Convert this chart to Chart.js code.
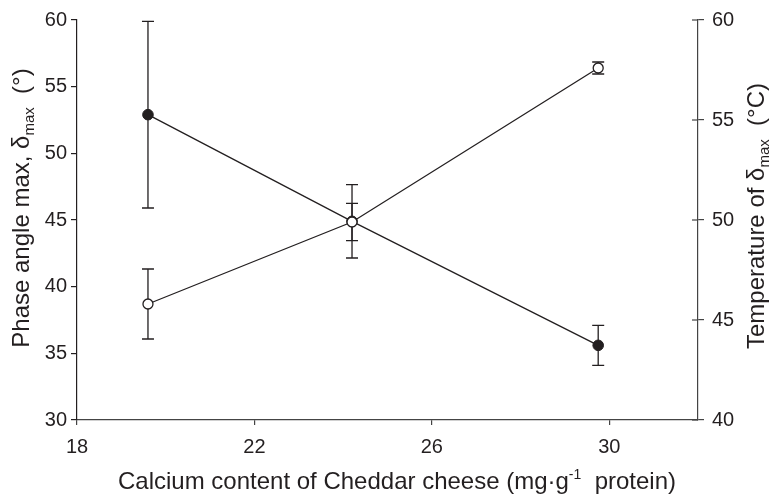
<!DOCTYPE html>
<html>
<head>
<meta charset="utf-8">
<script src="https://cdn.jsdelivr.net/npm/chart.js@4.4.1/dist/chart.umd.min.js"></script>
<style>
  html, body { margin: 0; padding: 0; background: #fff; }
  #wrap { width: 772px; height: 497px; position: relative; }
</style>
</head>
<body>
<div id="wrap"><canvas id="chart"></canvas></div>
<script>
// ---------------- Data ----------------
const calcium = [19.6, 24.2, 29.75];
const phaseAngle = [52.9, 44.9, 35.6];
const phaseErr = [7.0, 2.75, 1.5];
const temperature = [45.8, 49.9, 57.6];
const temperatureErr = [1.75, 0.93, 0.3];
const xTicks = [18, 22, 26, 30];
const leftTicks = [30, 35, 40, 45, 50, 55, 60];
const rightTicks = [40, 45, 50, 55, 60];

const INK = "#231f20";
const FONT = "'Liberation Sans', Arial, sans-serif";

// ---------------- Helpers ----------------
// parts: [{ text, size, dy }]  dy shifts baseline (positive = down)
function drawRich(ctx, parts, cx, cy, rotate) {
  ctx.save();
  ctx.translate(cx, cy);
  if (rotate) ctx.rotate(rotate);
  let total = 0;
  parts.forEach(p => {
    ctx.font = `${p.size}px ${FONT}`;
    p.w = ctx.measureText(p.text).width;
    total += p.w;
  });
  let x = -total / 2;
  ctx.fillStyle = INK;
  ctx.textBaseline = "alphabetic";
  ctx.textAlign = "left";
  parts.forEach(p => {
    ctx.font = `${p.size}px ${FONT}`;
    ctx.fillText(p.text, x, 8 + (p.dy || 0));
    x += p.w;
  });
  ctx.restore();
}

function fixTicks(list) {
  return scale => { scale.ticks = list.map(v => ({ value: v })); };
}

// ---------------- Plugins ----------------
const errorBars = {
  id: "errorBars",
  beforeDatasetsDraw(chart) {
    const { ctx, scales } = chart;
    const sets = [
      { y: phaseAngle, e: phaseErr, scale: scales.y },
      { y: temperature, e: temperatureErr, scale: scales.y2 }
    ];
    ctx.save();
    ctx.strokeStyle = INK;
    ctx.lineWidth = 1.3;
    sets.forEach(s => {
      calcium.forEach((xv, i) => {
        const px = scales.x.getPixelForValue(xv);
        const top = s.scale.getPixelForValue(s.y[i] + s.e[i]);
        const bot = s.scale.getPixelForValue(s.y[i] - s.e[i]);
        ctx.beginPath();
        ctx.moveTo(px, top); ctx.lineTo(px, bot);
        ctx.moveTo(px - 6, top); ctx.lineTo(px + 6, top);
        ctx.moveTo(px - 6, bot); ctx.lineTo(px + 6, bot);
        ctx.stroke();
      });
    });
    ctx.restore();
  }
};

const axisExtras = {
  id: "axisExtras",
  afterDraw(chart) {
    const { ctx, scales, chartArea } = chart;
    // inward half of right-axis ticks
    ctx.save();
    ctx.strokeStyle = "#444";
    ctx.lineWidth = 1.2;
    rightTicks.forEach(v => {
      const py = scales.y2.getPixelForValue(v);
      ctx.beginPath();
      ctx.moveTo(chartArea.right - 6, py);
      ctx.lineTo(chartArea.right, py);
      ctx.stroke();
    });
    ctx.restore();

    drawRich(ctx, [
      { text: "Phase angle max, δ", size: 24 },
      { text: "max", size: 15, dy: 5 },
      { text: "  (°)", size: 24 }
    ], 21, 208, -Math.PI / 2);

    drawRich(ctx, [
      { text: "Temperature of δ", size: 24 },
      { text: "max", size: 15, dy: 5 },
      { text: "  (°C)", size: 24 }
    ], 756, 216, -Math.PI / 2);

    drawRich(ctx, [
      { text: "Calcium content of Cheddar cheese (mg·g", size: 24 },
      { text: "-1", size: 14, dy: -10 },
      { text: "  protein)", size: 24 }
    ], 397, 481, 0);
  }
};

// ---------------- Chart ----------------
const tickFont = { family: FONT, size: 20 };

new Chart(document.getElementById("chart"), {
  type: "scatter",
  data: {
    datasets: [
      {
        label: "Temperature of δmax",
        data: calcium.map((x, i) => ({ x, y: temperature[i] })),
        yAxisID: "y2",
        showLine: true,
        borderColor: INK,
        borderWidth: 1.3,
        pointRadius: 5,
        pointBorderWidth: 1.3,
        pointBackgroundColor: "#fff",
        pointBorderColor: INK
      },
      {
        label: "Phase angle max",
        data: calcium.map((x, i) => ({ x, y: phaseAngle[i] })),
        yAxisID: "y",
        showLine: true,
        borderColor: INK,
        borderWidth: 1.3,
        pointRadius: 5.3,
        pointBorderWidth: 1,
        pointBackgroundColor: INK,
        pointBorderColor: INK
      }
    ]
  },
  options: {
    responsive: true,
    maintainAspectRatio: false,
    animation: false,
    layout: { padding: { top: 20, right: 0, bottom: 0, left: 0 } },
    plugins: { legend: { display: false }, tooltip: { enabled: false } },
    scales: {
      x: {
        type: "linear",
        min: 18, max: 32,
        afterBuildTicks: fixTicks(xTicks),
        afterFit: s => { s.height = 77; },
        grid: { drawOnChartArea: false, tickLength: 5, color: "#444", lineWidth: 1.2 },
        border: { color: "#444", width: 1.2 },
        ticks: { font: tickFont, color: INK, padding: 10, maxRotation: 0 }
      },
      y: {
        position: "left",
        min: 30, max: 60,
        afterBuildTicks: fixTicks(leftTicks),
        afterFit: s => { s.width = 77; },
        grid: { drawOnChartArea: false, tickLength: 6, color: INK, lineWidth: 1.2 },
        border: { color: INK, width: 1.2 },
        ticks: { font: tickFont, color: INK, padding: 4 }
      },
      y2: {
        position: "right",
        min: 40, max: 60,
        afterBuildTicks: fixTicks(rightTicks),
        afterFit: s => { s.width = 74; },
        grid: { drawOnChartArea: false, tickLength: 6, color: "#444", lineWidth: 1.2 },
        border: { color: "#444", width: 1.2 },
        ticks: { font: tickFont, color: INK, padding: 8 }
      }
    }
  },
  plugins: [errorBars, axisExtras]
});
</script>
</body>
</html>
